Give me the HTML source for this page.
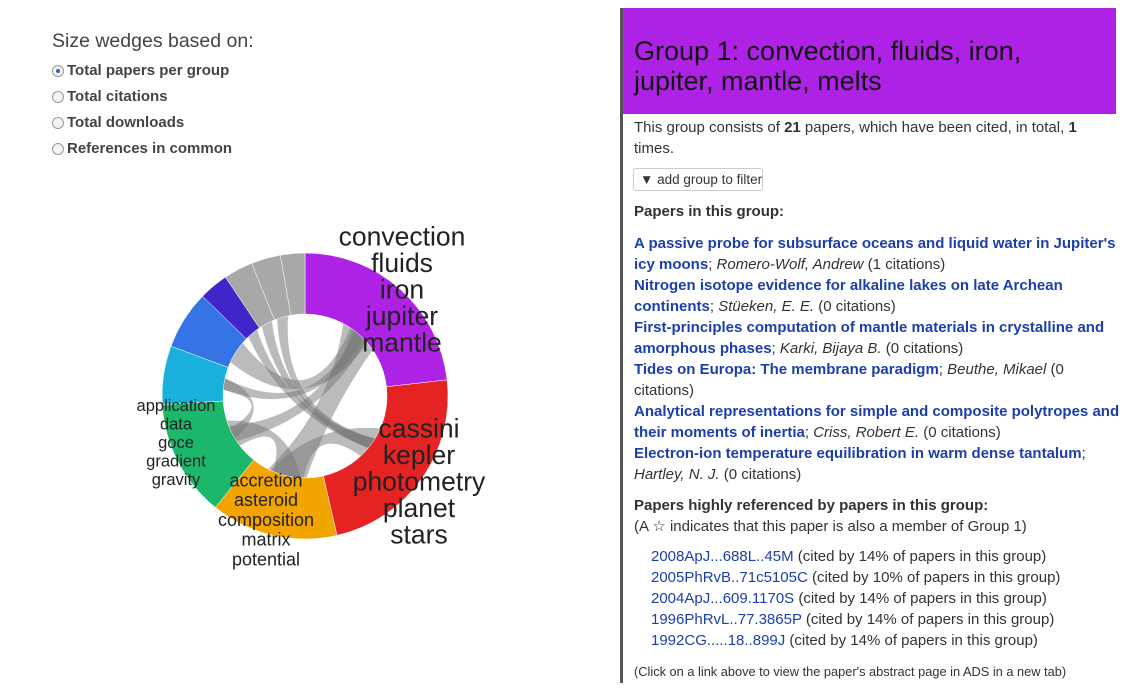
<!DOCTYPE html>
<html><head><meta charset="utf-8"><style>
body{margin:0;width:1138px;height:698px;background:#fff;font-family:"Liberation Sans",sans-serif;color:#333;position:relative;overflow:hidden}
.a{position:absolute;white-space:nowrap}
.r{font-size:15px;line-height:18px}
.lnk{color:#1c3faa;font-weight:bold}
.ref{color:#1c3faa}
.opt{font-size:15px;font-weight:bold;color:#444;left:52px}
.radio{display:inline-block;width:12px;height:12px;border:1px solid #999;border-radius:50%;vertical-align:-2px;margin-right:3px;background:#f4f4f4;box-sizing:border-box;position:relative}
.radio.on::after{content:"";position:absolute;left:3px;top:3px;width:4px;height:4px;border-radius:50%;background:#2a64c8}
</style></head><body>
<div class="a" style="left:52px;top:30px;font-size:19.5px;color:#444">Size wedges based on:</div>
<div class="a opt" style="top:62px"><span class="radio on"></span>Total papers per group</div>
<div class="a opt" style="top:88px"><span class="radio"></span>Total citations</div>
<div class="a opt" style="top:114px"><span class="radio"></span>Total downloads</div>
<div class="a opt" style="top:140px"><span class="radio"></span>References in common</div>

<svg id="chart" class="a" style="left:0;top:0" width="620" height="698"></svg>

<div class="a" style="left:620px;top:8px;width:3px;height:675px;background:#555"></div>
<div class="a" style="left:623px;top:8px;width:493px;height:106px;background:#ae22e6"></div>
<div class="a" style="left:634px;top:36px;font-size:27px;line-height:30px;color:#111">Group 1: convection, fluids, iron,<br>jupiter, mantle, melts</div>
<div class="a r" style="left:634px;top:117px;line-height:21px">This group consists of <b>21</b> papers, which have been cited, in total, <b>1</b><br>times.</div>
<div class="a" style="left:633px;top:168px;width:122px;height:21px;border:1px solid #ccc;border-radius:3px;font-size:13.5px;line-height:21px;padding-left:6px;color:#333">&#x25BC;&#xFE0E; add group to filter</div>
<div class="a r" style="left:634px;top:203px;font-weight:bold">Papers in this group:</div>
<div class="a r" style="left:634px;top:233px;line-height:21px">
<span class="lnk">A passive probe for subsurface oceans and liquid water in Jupiter's</span><br><span class="lnk">icy moons</span>; <i>Romero-Wolf, Andrew</i> (1 citations)<br>
<span class="lnk">Nitrogen isotope evidence for alkaline lakes on late Archean</span><br><span class="lnk">continents</span>; <i>Stüeken, E. E.</i> (0 citations)<br>
<span class="lnk">First-principles computation of mantle materials in crystalline and</span><br><span class="lnk">amorphous phases</span>; <i>Karki, Bijaya B.</i> (0 citations)<br>
<span class="lnk">Tides on Europa: The membrane paradigm</span>; <i>Beuthe, Mikael</i> (0<br>citations)<br>
<span class="lnk">Analytical representations for simple and composite polytropes and</span><br><span class="lnk">their moments of inertia</span>; <i>Criss, Robert E.</i> (0 citations)<br>
<span class="lnk">Electron-ion temperature equilibration in warm dense tantalum</span>;<br><i>Hartley, N. J.</i> (0 citations)</div>
<div class="a r" style="left:634px;top:495px;line-height:21px"><b>Papers highly referenced by papers in this group:</b><br>(A ☆ indicates that this paper is also a member of Group 1)</div>
<div class="a r" style="left:651px;top:546px;line-height:21px">
<span class="ref">2008ApJ...688L..45M</span> (cited by 14% of papers in this group)<br>
<span class="ref">2005PhRvB..71c5105C</span> (cited by 10% of papers in this group)<br>
<span class="ref">2004ApJ...609.1170S</span> (cited by 14% of papers in this group)<br>
<span class="ref">1996PhRvL..77.3865P</span> (cited by 14% of papers in this group)<br>
<span class="ref">1992CG.....18..899J</span> (cited by 14% of papers in this group)</div>
<div class="a" style="left:634px;top:664px;font-size:12.8px">(Click on a link above to view the paper's abstract page in ADS in a new tab)</div>

<script>
const groups = ["g1","g2","g3","g4","g5","g6","g7","g8","g9","g10"];
const sizes = [21,21,13,12,6,6,3,3,3,2.5];
const colors = ["#ae22e6","#e52323","#f2a500","#1bb86b","#1ab0dd","#3574e4","#4025c8","#a8a8a8","#a8a8a8","#a8a8a8"];
const chordFrom = [0,0,0,0,1,1,2,3,7,1];
const chordTo =   [3,4,5,2,2,8,3,4,1,6];
const chordW =    [3,2,4,7,6,2,5,2,2,2];

const svg=document.getElementById('chart'), NS="http://www.w3.org/2000/svg";
const cx=305, cy=396, R=143, r=82;
const total=sizes.reduce((a,b)=>a+b,0);
const starts=[]; let acc=0;
sizes.forEach(s=>{starts.push(acc/total*2*Math.PI); acc+=s;});
function pt(rad,a){return [cx+rad*Math.sin(a), cy-rad*Math.cos(a)];}
function mid(i){return starts[i]+sizes[i]/total*Math.PI;}
chordFrom.forEach((f,k)=>{
  const t=chordTo[k], w=chordW[k]/total*2*Math.PI;
  const a=mid(f), b=mid(t);
  const p1=pt(r,a-w/2),p2=pt(r,a+w/2),q1=pt(r,b-w/2),q2=pt(r,b+w/2);
  const c1=pt(r*0.35,(a+b)/2), c2=c1;
  const p=document.createElementNS(NS,'path');
  p.setAttribute('d',`M${p1}A${r},${r} 0 0 1 ${p2}Q${c1} ${q1}A${r},${r} 0 0 1 ${q2}Q${c2} ${p1}Z`);
  p.setAttribute('fill','rgba(120,120,120,0.5)');
  
  
  svg.appendChild(p);
});
sizes.forEach((s,i)=>{
  const a0=starts[i], a1=a0+s/total*2*Math.PI, large=(a1-a0)>Math.PI?1:0;
  const o0=pt(R,a0),o1=pt(R,a1),i1=pt(r,a1),i0=pt(r,a0);
  const p=document.createElementNS(NS,'path');
  p.setAttribute('d',`M${o0}A${R},${R} 0 ${large} 1 ${o1}L${i1}A${r},${r} 0 ${large} 0 ${i0}Z`);
  p.setAttribute('fill',colors[i]);
  p.setAttribute('stroke','#fff');p.setAttribute('stroke-width','0.5');
  
  
  svg.appendChild(p);
});
const labels=[
 {x:402,y:236,size:26.5,lines:["convection","fluids","iron","jupiter","mantle"],lh:26.5},
 {x:419,y:428,size:26.5,lines:["cassini","kepler","photometry","planet","stars"],lh:26.5},
 {x:176,y:405,size:16.5,lines:["application","data","goce","gradient","gravity"],lh:18.5},
 {x:266,y:480,size:18,lines:["accretion","asteroid","composition","matrix","potential"],lh:19.8}
];
labels.forEach((L,j)=>{
  const t=document.createElementNS(NS,'text');
  t.setAttribute('text-anchor','middle');
  t.setAttribute('font-size',L.size);
  t.setAttribute('fill','#222');
  t.setAttribute('font-family','Liberation Sans, sans-serif');
  
  
  L.lines.forEach((s,k)=>{
    const ts=document.createElementNS(NS,'tspan');
    ts.setAttribute('x',L.x);ts.setAttribute('y',L.y+k*L.lh+L.size*0.35);
    ts.textContent=s;t.appendChild(ts);
  });
  svg.appendChild(t);
});
</script>
</body></html>
